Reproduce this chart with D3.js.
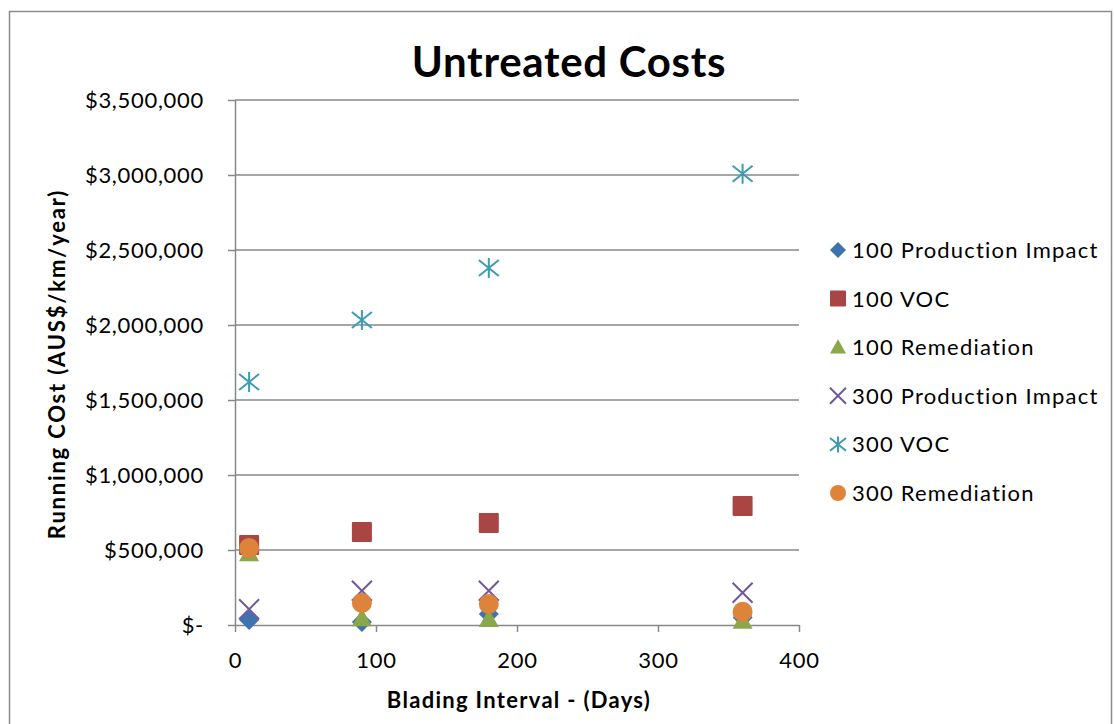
<!DOCTYPE html>
<html>
<head>
<meta charset="utf-8">
<script src="https://cdn.jsdelivr.net/npm/d3@7"></script>
<style>
  html, body { margin: 0; padding: 0; background: #fff; }
  svg { display: block; }
  text { font-family: Lato, "Open Sans", "Liberation Sans", sans-serif; fill: #000; }
</style>
</head>
<body>
<svg id="chart" width="1114" height="724"></svg>
<script>
// Blading intervals (days)
const intervals = [10, 90, 180, 360];

// Running cost series (AUS$/km/year)
const prod100 = [33000, 20000, 73000, 50000];
const voc100 = [533000, 620000, 680000, 793000];
const remed100 = [478000, 45000, 40000, 28000];
const prod300 = [105000, 228000, 228000, 215000];
const voc300 = [1620000, 2033000, 2380000, 3008000];
const remed300 = [513000, 147000, 140000, 88000];

const seriesNames = [
  "100 Production Impact", "100 VOC", "100 Remediation",
  "300 Production Impact", "300 VOC", "300 Remediation"
];
const seriesValues = [prod100, voc100, remed100, prod300, voc300, remed300];
const seriesColors = ["#3f73b0", "#a94543", "#8aa84b", "#71589a", "#3d9bb3", "#de843a"];
const seriesShapes = ["diamond", "square", "triangle", "x", "star", "circle"];

const yTicks = [0, 500000, 1000000, 1500000, 2000000, 2500000, 3000000, 3500000];
const xTicks = [0, 100, 200, 300, 400];

const svg = d3.select("#chart");

// outer chart frame
svg.append("rect")
  .attr("x", 9.5).attr("y", 11.5)
  .attr("width", 1102).attr("height", 720)
  .attr("fill", "none").attr("stroke", "#8c8c8c").attr("stroke-width", 1.5);

const plot = { left: 235, right: 799, top: 100, bottom: 625 };

const x = d3.scaleLinear().domain([0, 400]).range([plot.left, plot.right]);
const y = d3.scaleLinear().domain([0, 3500000]).range([plot.bottom, plot.top]);

const fmt = v => v === 0 ? "$-" : "$" + d3.format(",")(v);

// horizontal gridlines
svg.append("g").selectAll("line.grid")
  .data(yTicks.filter(d => d > 0))
  .join("line")
  .attr("x1", plot.left).attr("x2", plot.right)
  .attr("y1", d => y(d)).attr("y2", d => y(d))
  .attr("stroke", "#888").attr("stroke-width", 1.5);

// y axis
const yAxis = svg.append("g")
  .attr("transform", `translate(${plot.left},0)`)
  .call(d3.axisLeft(y).tickValues(yTicks).tickSize(7).tickSizeOuter(0).tickFormat(fmt).tickPadding(24));
yAxis.select(".domain").attr("stroke", "#888").attr("stroke-width", 1.5);
yAxis.selectAll(".tick line").attr("stroke", "#888").attr("stroke-width", 1.5);
yAxis.selectAll(".tick text").attr("font-size", 22).attr("fill", "#000")
  .style("font-family", "Lato, 'Open Sans', sans-serif")
  .style("letter-spacing", "0.7px");

// x axis
const xAxis = svg.append("g")
  .attr("transform", `translate(0,${plot.bottom})`)
  .call(d3.axisBottom(x).tickValues(xTicks).tickSize(7).tickSizeOuter(0).tickPadding(20));
xAxis.select(".domain").attr("stroke", "#888").attr("stroke-width", 1.5);
xAxis.selectAll(".tick line").attr("stroke", "#888").attr("stroke-width", 1.5);
xAxis.selectAll(".tick text").attr("font-size", 22).attr("fill", "#000")
  .style("font-family", "Lato, 'Open Sans', sans-serif")
  .style("letter-spacing", "0.7px");

// titles
svg.append("text")
  .attr("x", 569).attr("y", 77)
  .attr("text-anchor", "middle")
  .attr("font-size", 42).attr("font-weight", "bold")
  .style("letter-spacing", "0.7px")
  .text("Untreated Costs");

svg.append("text")
  .attr("x", 519).attr("y", 708)
  .attr("text-anchor", "middle")
  .attr("font-size", 22).attr("font-weight", "bold")
  .style("letter-spacing", "1.3px")
  .text("Blading Interval - (Days)");

svg.append("text")
  .attr("transform", "translate(65,364) rotate(-90)")
  .attr("text-anchor", "middle")
  .attr("font-size", 22).attr("font-weight", "bold")
  .style("letter-spacing", "1.8px")
  .text("Running COst (AUS$/km/year)");

// marker drawing
function drawMarker(g, shape, color, size) {
  const r = size / 2;
  if (shape === "diamond") {
    g.append("path").attr("d", `M0,${-r}L${r},0L0,${r}L${-r},0Z`).attr("fill", color);
  } else if (shape === "square") {
    g.append("rect").attr("x", -r).attr("y", -r).attr("width", size).attr("height", size)
      .attr("rx", 1).attr("fill", color);
  } else if (shape === "triangle") {
    g.append("path").attr("d", `M0,${-r}L${r},${r * 0.8}L${-r},${r * 0.8}Z`).attr("fill", color);
  } else if (shape === "circle") {
    g.append("circle").attr("r", r).attr("fill", color);
  } else if (shape === "x") {
    g.append("path").attr("d", `M${-r},${-r}L${r},${r}M${-r},${r}L${r},${-r}`)
      .attr("stroke", color).attr("stroke-width", 2).attr("fill", "none");
  } else if (shape === "star") {
    g.append("path").attr("d", `M${-r},${-r * 0.8}L${r},${r * 0.8}M${-r},${r * 0.8}L${r},${-r * 0.8}M0,${-r}L0,${r}`)
      .attr("stroke", color).attr("stroke-width", 2).attr("fill", "none");
  }
}

// data points, series drawn in order so later series sit on top
seriesValues.forEach((vals, si) => {
  const g = svg.append("g").attr("class", "series");
  vals.forEach((v, i) => {
    const mg = g.append("g").attr("transform", `translate(${x(intervals[i])},${y(v)})`);
    drawMarker(mg, seriesShapes[si], seriesColors[si], 20);
  });
});

// legend
const legend = svg.append("g").attr("transform", "translate(838,250)");
seriesNames.forEach((name, i) => {
  const row = legend.append("g").attr("transform", `translate(0,${i * 48.6})`);
  drawMarker(row, seriesShapes[i], seriesColors[i], 16);
  row.append("text").attr("x", 14).attr("y", 8).attr("font-size", 22)
    .style("letter-spacing", "1.2px")
    .text(name);
});
</script>
</body>
</html>
